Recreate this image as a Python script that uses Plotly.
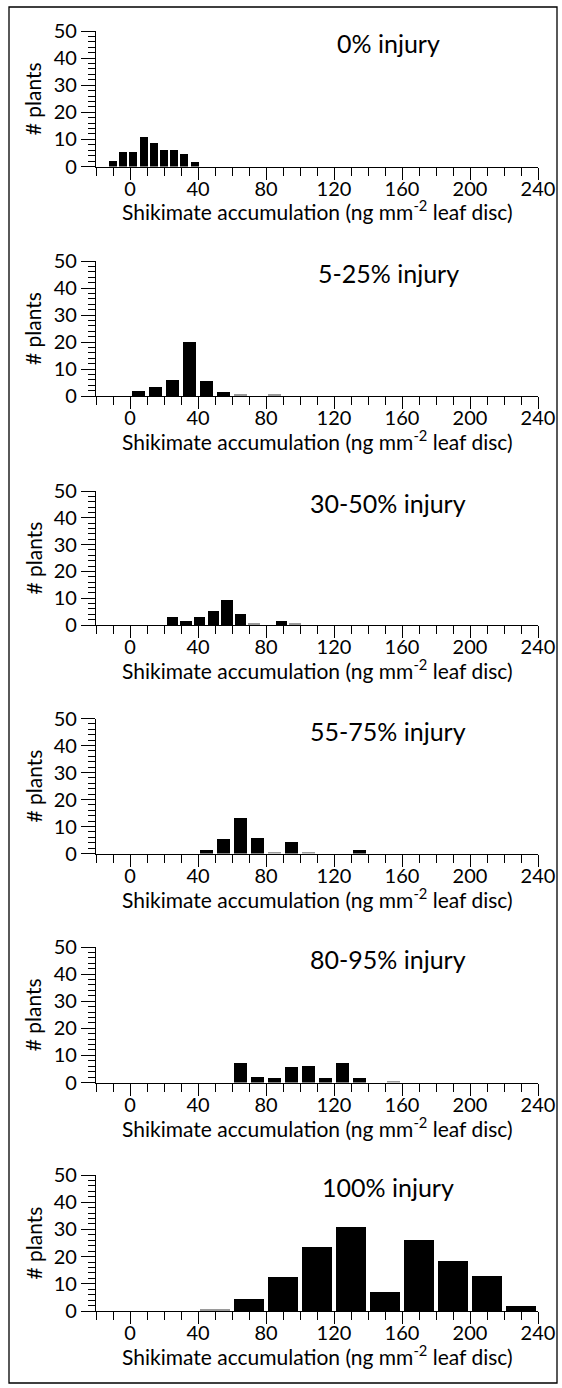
import plotly.graph_objects as go

W, H = 562, 1388

titles = ["0% injury", "5-25% injury", "30-50% injury", "55-75% injury",
          "80-95% injury", "100% injury"]
x_title = "Shikimate accumulation (ng mm<sup>-2</sup> leaf disc)"
y_title = "# plants"

p1_x = [-10, -4, 2, 8, 14, 20, 26, 32, 38]
p1_y = [2, 5.5, 5.5, 11, 8.5, 6.2, 6.2, 4.5, 1.5]
p2_x = [5, 15, 25, 35, 45, 55, 65, 75, 85]
p2_y = [2, 3.3, 6, 20, 5.5, 1.5, 0.4, 0, 0.4]
p3_x = [25, 33, 41, 49, 57, 65, 73, 81, 89, 97]
p3_y = [3, 1.4, 3, 5.4, 9.5, 4, 0.4, 0, 1.4, 0.4]
p4_x = [45, 55, 65, 75, 85, 95, 105, 115, 125, 135]
p4_y = [1.5, 5.5, 13.5, 6, 0.4, 4.5, 0.4, 0, 0, 1.5]
p5_x = [65, 75, 85, 95, 105, 115, 125, 135, 145, 155]
p5_y = [7.3, 2.2, 1.6, 5.7, 6.2, 1.6, 7.3, 1.6, 0, 0.4]
p6_x = [50, 70, 90, 110, 130, 150, 170, 190, 210, 230]
p6_y = [0.4, 4.5, 12.5, 23.5, 31, 7, 26, 18.5, 13, 2]

xs = [p1_x, p2_x, p3_x, p4_x, p5_x, p6_x]
ys = [p1_y, p2_y, p3_y, p4_y, p5_y, p6_y]
bar_w = [4.6, 7.4, 6.8, 7.8, 7.4, 18.2]

x_ticks = [0, 40, 80, 120, 160, 200, 240]
y_ticks = [0, 10, 20, 30, 40, 50]

# layout (pixels)
tops = [31, 261, 491, 718.5, 947, 1175]
bots = [166.5, 396, 625, 853.5, 1082.5, 1311]
xl, xr = 96, 538

FONT = "Lato"
fig = go.Figure()
for i in range(6):
    n = i + 1
    sfx = str(n) if n > 1 else ""
    cols = ["#9a9a9a" if v < 1 else "black" for v in ys[i]]
    fig.add_trace(go.Bar(x=xs[i], y=ys[i], width=bar_w[i],
                         marker=dict(color=cols, line=dict(width=0)),
                         xaxis="x" + sfx, yaxis="y" + sfx, showlegend=False))
    xa = dict(domain=[xl / W, xr / W], range=[-20, 240], anchor="y" + sfx,
              showline=True, linecolor="black", linewidth=1.3, showgrid=False, zeroline=False,
              ticks="outside", ticklen=12, tickwidth=1.3, tickcolor="black",
              tickvals=x_ticks, ticktext=[str(v) for v in x_ticks],
              tickfont=dict(family=FONT, size=20, color="black"),
              ticklabelstandoff=-8,
              minor=dict(ticks="outside", ticklen=8, tickwidth=1.3, tickcolor="black",
                         dtick=10, tick0=0, showgrid=False),
              automargin=False, fixedrange=True)
    ya = dict(domain=[1 - bots[i] / H, 1 - tops[i] / H], range=[0, 50],
              anchor="x" + sfx,
              showline=True, linecolor="black", linewidth=1.3, showgrid=False, zeroline=False,
              ticks="outside", ticklen=14, tickwidth=1.3, tickcolor="black",
              tickvals=y_ticks, ticktext=[str(v) for v in y_ticks],
              tickfont=dict(family=FONT, size=20, color="black"),
              minor=dict(ticks="outside", ticklen=7, tickwidth=1.1, tickcolor="black",
                         dtick=2, tick0=0, showgrid=False),
              automargin=False, fixedrange=True)
    fig.update_layout(**{"xaxis" + sfx: xa, "yaxis" + sfx: ya})
    fig.add_annotation(text=y_title, textangle=-90, xref="paper", yref="paper",
                       x=32.5 / W, y=1 - (tops[i] + bots[i]) / 2 / H,
                       xanchor="center", yanchor="middle",
                       showarrow=False, font=dict(family=FONT, size=21, color="black"))
    fig.add_annotation(text=x_title, xref="paper", yref="paper",
                       x=(xl + xr) / 2 / W, y=1 - (bots[i] + 44) / H,
                       xanchor="center", yanchor="middle",
                       showarrow=False, font=dict(family=FONT, size=21, color="black"))
    fig.add_annotation(text=titles[i], xref="x" + sfx, yref="y" + sfx,
                       x=152, y=45.5, xanchor="center", yanchor="middle", showarrow=False,
                       font=dict(family=FONT, size=25, color="black"))

fig.add_shape(type="rect", xref="paper", yref="paper",
              x0=9 / W, x1=557 / W, y0=1 - 1383 / H, y1=1 - 7 / H,
              line=dict(color="black", width=1.3), fillcolor="rgba(0,0,0,0)")

fig.update_layout(width=W, height=H, margin=dict(l=0, r=0, t=0, b=0),
                  paper_bgcolor="white", plot_bgcolor="white", bargap=0)
fig.write_html("out.html", config={"displayModeBar": False},
               post_script="document.body.style.margin='0';document.body.style.overflow='hidden';")
